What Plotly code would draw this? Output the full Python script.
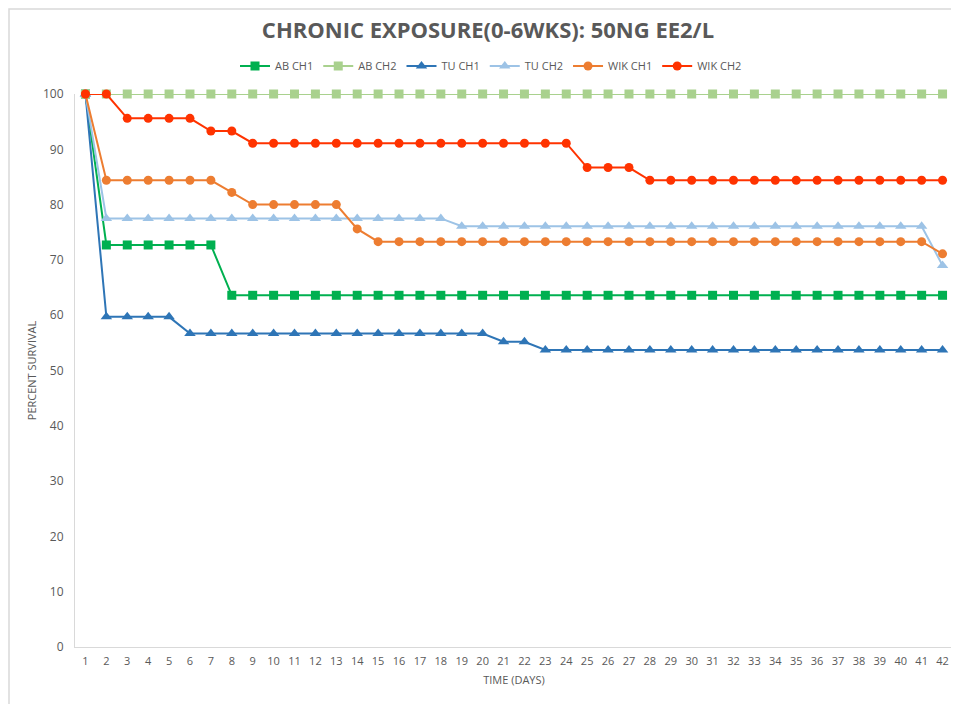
import plotly.graph_objects as go

# days 1..42
days = list(range(1, 43))

# percent survival per tank
ab_ch1 = [100] + [72.7] * 6 + [63.6] * 35
ab_ch2 = [100] * 42
tu_ch1 = [100] + [59.7] * 4 + [56.7] * 15 + [55.2] * 2 + [53.7] * 20
tu_ch2 = [100] + [77.5] * 17 + [76.1] * 23 + [69.0]
wik_ch1 = [100] + [84.4] * 6 + [82.2] + [80.0] * 5 + [75.6] + [73.3] * 27 + [71.1]
wik_ch2 = [100] * 2 + [95.6] * 4 + [93.3] * 2 + [91.1] * 16 + [86.7] * 3 + [84.4] * 15

series = [
    ("AB CH1", ab_ch1, "#00B050", "square"),
    ("AB CH2", ab_ch2, "#A9D18E", "square"),
    ("TU CH1", tu_ch1, "#2E75B6", "triangle-up"),
    ("TU CH2", tu_ch2, "#9DC3E6", "triangle-up"),
    ("WIK CH1", wik_ch1, "#ED7D31", "circle"),
    ("WIK CH2", wik_ch2, "#FF3300", "circle"),
]

grey = "#595959"
font = "Open Sans"

fig = go.Figure()
for name, vals, col, sym in series:
    fig.add_trace(go.Scatter(
        x=[str(d) for d in days], y=vals, name=name, mode="lines+markers",
        line=dict(color=col, width=2),
        marker=dict(color=col, symbol=sym, size=10 if sym == "triangle-up" else 9),
        cliponaxis=False,
    ))

# the page body adds an 8px offset, so work in page pixels minus 8
OFF = 8
W, H = 959 - OFF, 704 - OFF
# plot area on the page: x 75..953, y 94..647
L, T = 75 - OFF, 94 - OFF
R, B = W - (953 - OFF), H - (647 - OFF)
pw, ph = W - L - R, H - T - B

def px_x(p):
    return (p - OFF - L) / pw

def px_y(p):
    return (H - B - (p - OFF)) / ph

# light outer chart border (as close to the page corner as the body offset allows)
fig.add_shape(type="rect", xref="paper", yref="paper",
              x0=px_x(OFF + 1), x1=px_x(975), y0=px_y(720), y1=px_y(OFF + 1),
              line=dict(color="#D9D9D9", width=1.5), layer="below")

fig.update_layout(
    width=W, height=H,
    margin=dict(l=L, r=R, t=T, b=B),
    paper_bgcolor="white", plot_bgcolor="white",
    font=dict(family=font, color=grey, size=11),
    title=dict(text="<b>CHRONIC EXPOSURE(0-6WKS): 50NG EE2/L</b>",
               font=dict(family=font, size=22, color=grey),
               x=(488 - OFF) / W, xref="container", xanchor="center",
               y=1 - (30 - OFF) / H, yref="container", yanchor="middle"),
    legend=dict(orientation="h", x=px_x(491), xanchor="center",
                y=px_y(66), yanchor="middle",
                font=dict(family=font, size=11, color=grey),
                itemwidth=30, tracegroupgap=0),
    showlegend=True,
)

fig.update_xaxes(
    type="category", range=[-0.5, 41.5],
    showgrid=False, showline=True, linecolor="#D9D9D9", linewidth=1,
    ticks="", tickfont=dict(size=11, color=grey), ticklabelstandoff=4,
    title=dict(text="TIME (DAYS)", font=dict(size=11, color=grey), standoff=9),
)
fig.update_yaxes(
    range=[0, 100], tickvals=list(range(0, 101, 10)),
    showgrid=False, showline=True, linecolor="#D9D9D9", linewidth=1,
    zeroline=False, ticks="", tickfont=dict(size=12, color=grey),
    ticklabelstandoff=8,
    title=dict(text="PERCENT SURVIVAL", font=dict(size=11, color=grey), standoff=4),
)

fig.write_html("out.html")
